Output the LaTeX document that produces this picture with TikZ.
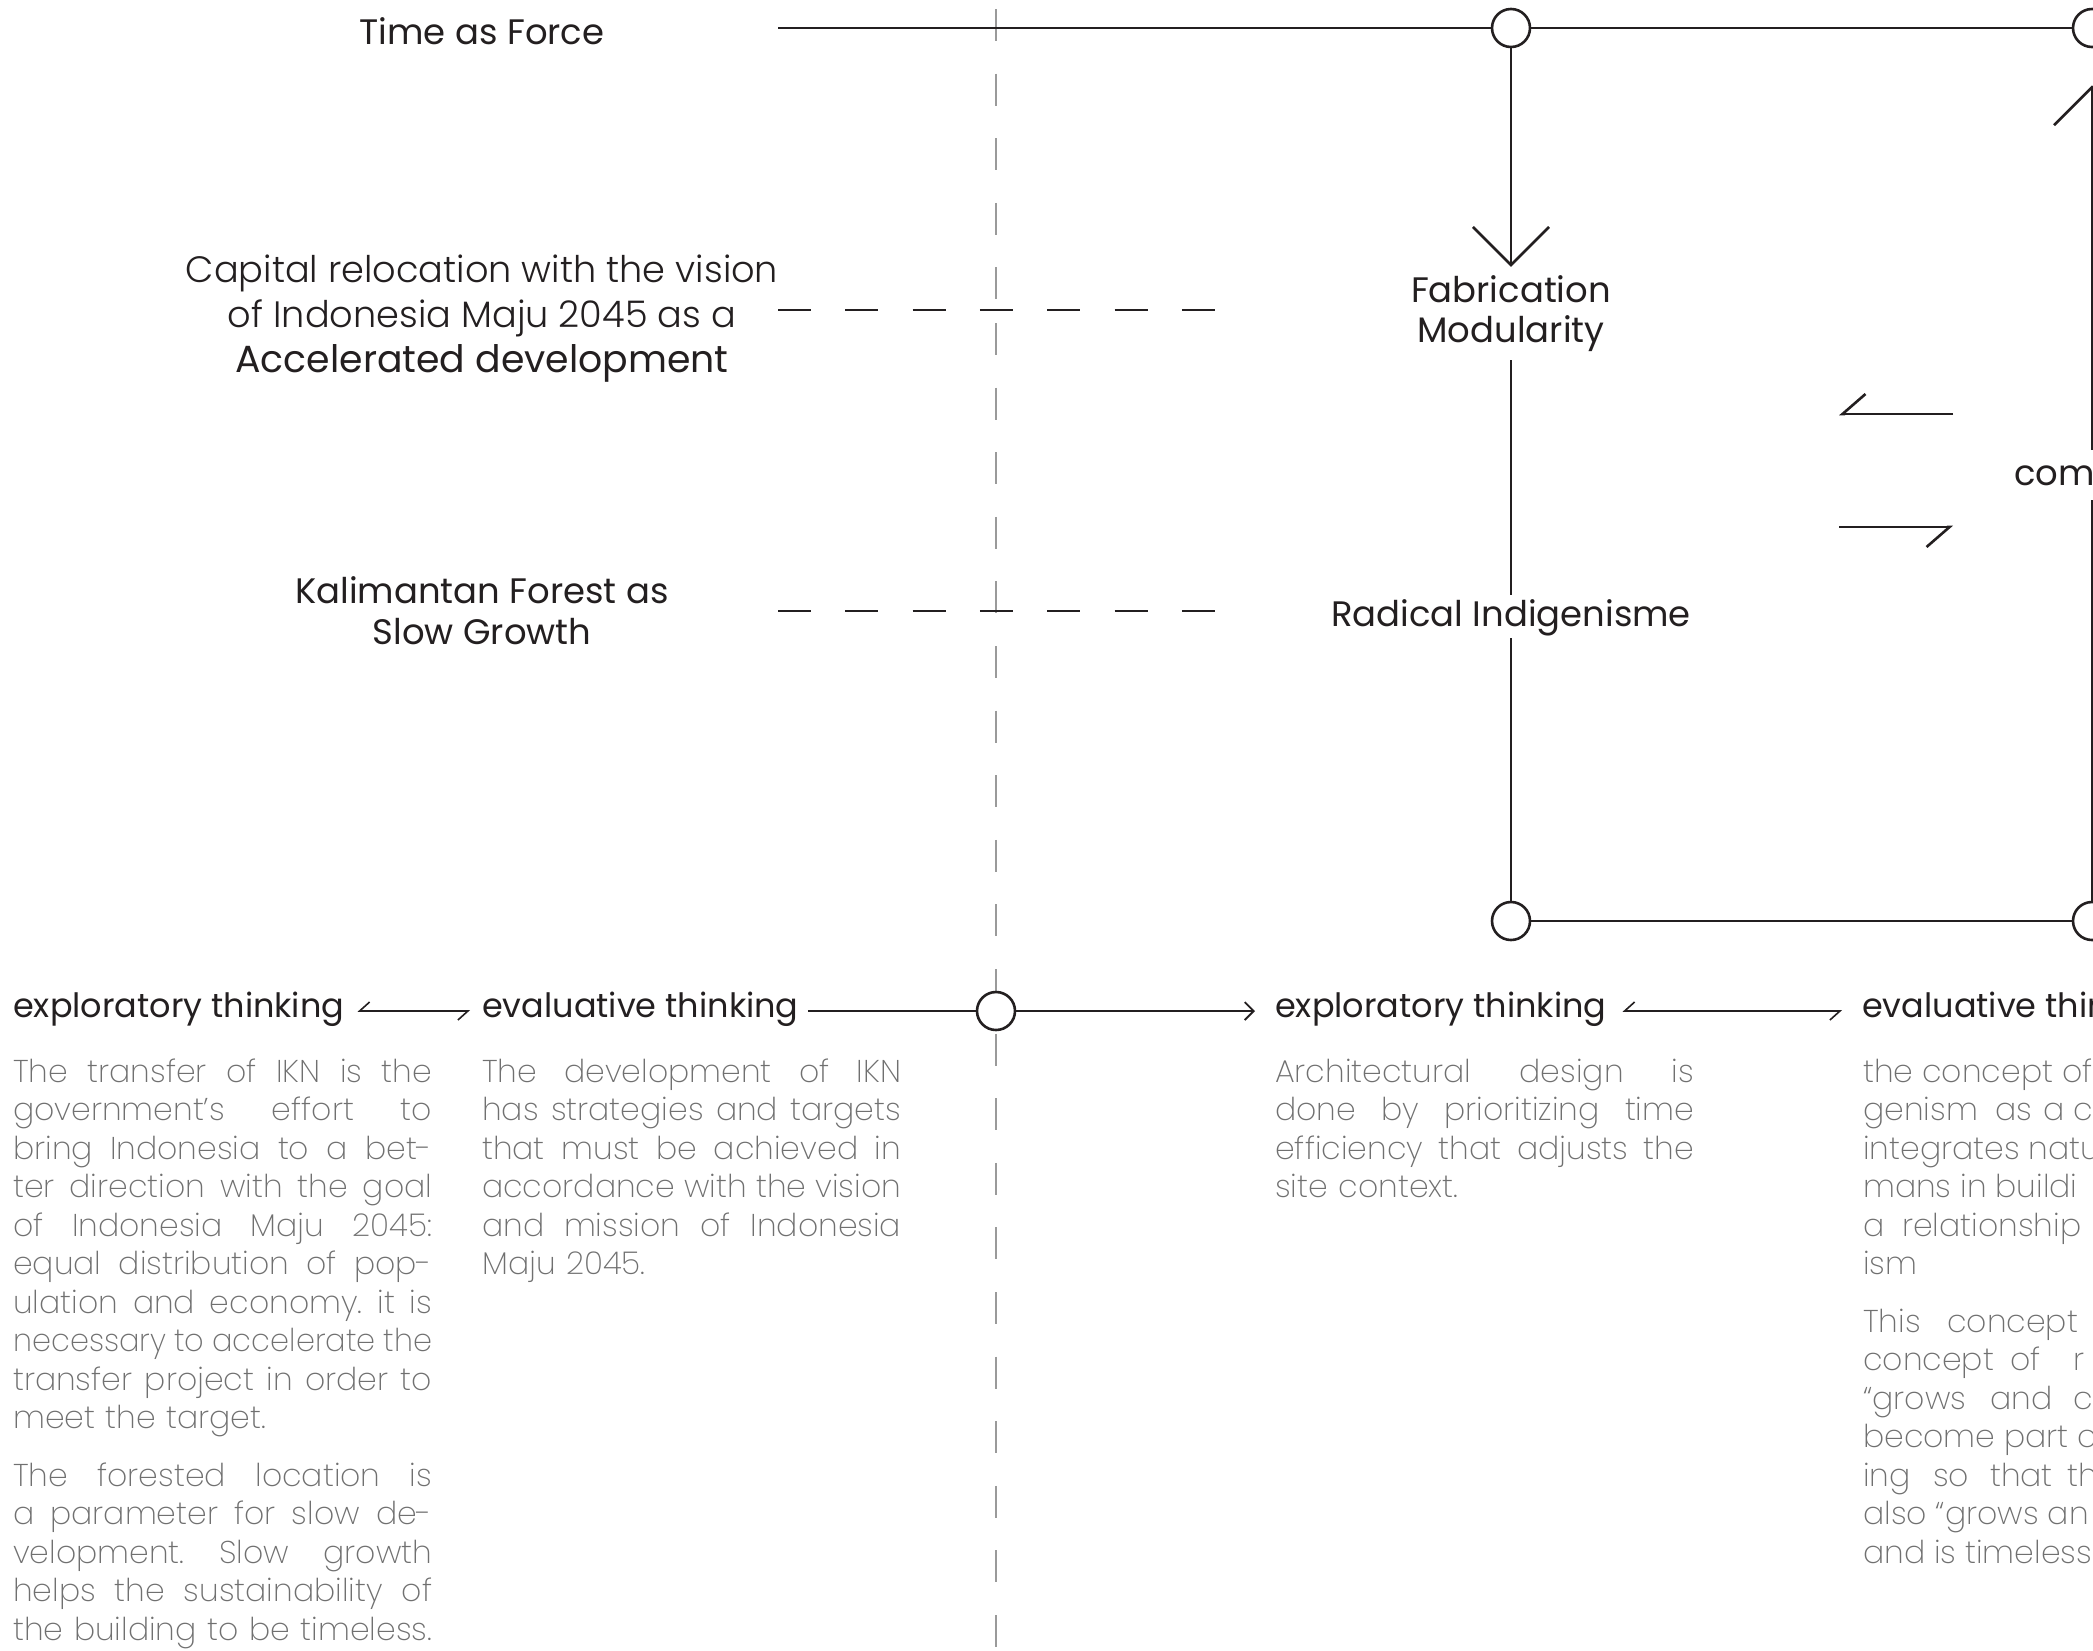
\documentclass[tikz,border=0pt]{standalone}
\usepackage{fontspec}
\usetikzlibrary{arrows.meta}
\setmainfont{Poppins}
\definecolor{ink}{HTML}{231F20}
\definecolor{dashgray}{HTML}{9A9A9A}
\IfFontExistsTF{Poppins Light}{\newfontfamily\lightf{Poppins Light}}{\newfontfamily\lightf{Poppins}}
\newfontfamily\medf{Poppins}
\IfFontExistsTF{Poppins ExtraLight}%
  {\newfontfamily\thinf{Poppins ExtraLight}\definecolor{bodycol}{HTML}{707070}}%
  {\IfFontExistsTF{Poppins Light}%
     {\newfontfamily\thinf{Poppins Light}\definecolor{bodycol}{HTML}{8A8A8A}}%
     {\newfontfamily\thinf{Poppins}\definecolor{bodycol}{HTML}{A0A0A0}}}
\newcommand\J[1]{\makebox[419pt][s]{\spaceskip=0.28em plus 2em minus 0.1em\xspaceskip=\spaceskip\relax #1}}
\newcommand\JS[1]{\scalebox{0.965}[1]{\makebox[434.2pt][s]{\spaceskip=0.26em plus 2em minus 0.1em\xspaceskip=\spaceskip\relax #1}}}
\begin{document}
\begin{tikzpicture}[x=1pt,y=-1pt,
  ln/.style={draw=ink, line width=2.6pt},
  thinln/.style={draw=ink, line width=1.8pt},
  hd/.style={font=\medf\fontsize{35.4}{40}\selectfont, text=ink, inner sep=0pt, text height=22pt, text depth=10pt},
  hdb/.style={hd, font=\medf\fontsize{33.5}{40}\selectfont},
  hdbig/.style={hd, font=\medf\fontsize{37.8}{40}\selectfont},
  lt/.style={font=\lightf\fontsize{36.7}{40}\selectfont, text=ink, inner sep=0pt, text height=22pt, text depth=10pt},
  bodyfont/.style={font=\thinf\fontsize{31.5}{38.5}\selectfont, text=bodycol, inner sep=0pt},
  body/.style={bodyfont, anchor=base west, text width=419pt, align=left},
  dot/.style={circle, draw=ink, line width=2.6pt, fill=white, minimum size=38pt, inner sep=0pt},
  vdash/.style={draw=dashgray, line width=2pt, dash pattern=on 32pt off 32.6pt},
  hdash/.style={draw=ink, line width=2.6pt, dash pattern=on 33pt off 34.3pt},
  bigarrow/.style={ln, -{Straight Barb[length=38pt,width=76pt]}},
  bigharp/.style={ln, -{Straight Barb[harpoon,swap,length=23pt,width=40pt]}},
  dharp/.style={draw=ink, line width=1.6pt, {Straight Barb[harpoon,swap,length=10pt,width=18pt]}-{Straight Barb[harpoon,swap,length=10pt,width=18pt]}},
  smallarrow/.style={thinln, -{Straight Barb[length=9pt,width=18pt]}}
]
\useasboundingbox (0,0) rectangle (2093,1650);

% dashed guide lines (drawn first)
\coordinate (va) at (996,9);
\coordinate (vb) at (996,300);
\coordinate (vc) at (996,323);
\coordinate (vd) at (996,1650);
\draw[vdash] (va) -- (vb);
\draw[vdash] (vc) -- (vd);
\coordinate (d1a) at (778,310);
\coordinate (d1b) at (1215,310);
\coordinate (d2a) at (778,611);
\coordinate (d2b) at (1215,611);
\draw[hdash] (d1a) -- (d1b);
\draw[hdash] (d2a) -- (d2b);

% left labels
\node[hd, anchor=base] (tf) at (482,44) {Time as Force};
\node[lt, anchor=base] (cap1) at (482,282) {Capital relocation with the vision};
\node[lt, anchor=base] (cap2) at (482,327) {of Indonesia Maju 2045 as a};
\node[hdbig, anchor=base] (cap3) at (482,372) {Accelerated development};
\node[hd, anchor=base] (kf1) at (482,603) {Kalimantan Forest as};
\node[hd, anchor=base] (kf2) at (482,644) {Slow Growth};

% top line
\coordinate (tl) at (778,28);
\node[dot] (c1) at (1511,28) {};
\node[dot] (c2) at (2092,28) {};
\node[dot] (c4) at (1511,921) {};
\node[dot] (c5) at (2092,921) {};
\draw[ln] (tl) -- (c1);
\draw[ln] (c1) -- (c2);
\draw[ln] (c4) -- (c5);

% middle column
\node[hd, anchor=base] (fa) at (1511,302) {Fabrication};
\node[hd, anchor=base] (mo) at (1511,342) {Modularity};
\node[hd, anchor=base] (ri) at (1511,626) {Radical Indigenisme};
\draw[bigarrow, shorten >=13pt] (c1) -- (fa);
\draw[ln, shorten <=8pt, shorten >=9pt] (mo) -- (ri);
\draw[ln, shorten <=2pt] (ri) -- (c4);

% right column
\node[hd, anchor=base west] (cm) at (2014,485) {com};
\draw[bigarrow, shorten <=13pt, shorten >=37pt] (cm.north -| c2) -- (c2);
\draw[ln, shorten <=5pt] (cm.south -| c5) -- (c5);

% harpoons between columns
\coordinate (ha1) at (1953,414);
\coordinate (ha2) at (1839,414);
\coordinate (hb1) at (1839,527);
\coordinate (hb2) at (1953,527);
\draw[bigharp] (ha1) -- (ha2);
\draw[bigharp] (hb1) -- (hb2);

% bottom row
\node[hdb, anchor=base west] (ex1) at (13,1017) {exploratory thinking};
\node[hdb, anchor=base west] (ev1) at (482,1017) {evaluative thinking};
\node[dot] (c3) at (996,1011) {};
\node[hdb, anchor=base west] (ex2) at (1275,1017) {exploratory thinking};
\node[hdb, anchor=base west] (ev2) at (1862,1017) {evaluative thinking};
\draw[dharp, shorten <=13pt, shorten >=12pt] (ex1) -- (ev1);
\draw[thinln, shorten <=9pt] (ev1) -- (c3);
\draw[smallarrow, shorten >=20pt] (c3) -- (ex2);
\draw[dharp, shorten <=16pt, shorten >=20pt] (ex2) -- (ev2);

% body text
\node[body] (p1) at (13,1082) {%
\J{The transfer of IKN is the}\\
\J{government’s effort to}\\
\J{bring Indonesia to a bet-}\\
\J{ter direction with the goal}\\
\J{of Indonesia Maju 2045:}\\
\J{equal distribution of pop-}\\
\J{ulation and economy. it is}\\
\JS{necessary to accelerate the}\\
\J{transfer project in order to}\\
meet the target.\\[19pt]
\J{The forested location is}\\
\J{a parameter for slow de-}\\
\J{velopment. Slow growth}\\
\J{helps the sustainability of}\\
\J{the building to be timeless.}};

\node[body] (p2) at (482,1082) {%
\J{The development of IKN}\\
\J{has strategies and targets}\\
\J{that must be achieved in}\\
\J{accordance with the vision}\\
\J{and mission of Indonesia}\\
Maju 2045.};

\node[body] (p3) at (1275,1082) {%
\J{Architectural design is}\\
\J{done by prioritizing time}\\
\J{efficiency that adjusts the}\\
site context.};

\foreach \xx/\yy/\ww [count=\i] in {
 1863/1082/the concept of,
 1863/1120.5/genism, 1995/1120.5/as, 2043/1120.5/a, 2073/1120.5/c,
 1863/1159/integrates natu,
 1863/1197.5/mans in buildi,
 1863/1236/a, 1902/1236/relationship,
 1863/1274.5/ism,
 1863/1332/This, 1947/1332/concept,
 1863/1370.5/concept, 2010/1370.5/of, 2073/1370.5/r,
 1863/1409/“grows, 1990/1409/and, 2073/1409/c,
 1863/1447.5/become part c,
 1863/1486/ing, 1933/1486/so, 1990/1486/that, 2067/1486/th,
 1863/1524.5/also “grows an,
 1863/1563/and is timeless}
 \node[bodyfont, anchor=base west] (w\i) at (\xx,\yy) {\ww};
\end{tikzpicture}
\end{document}
